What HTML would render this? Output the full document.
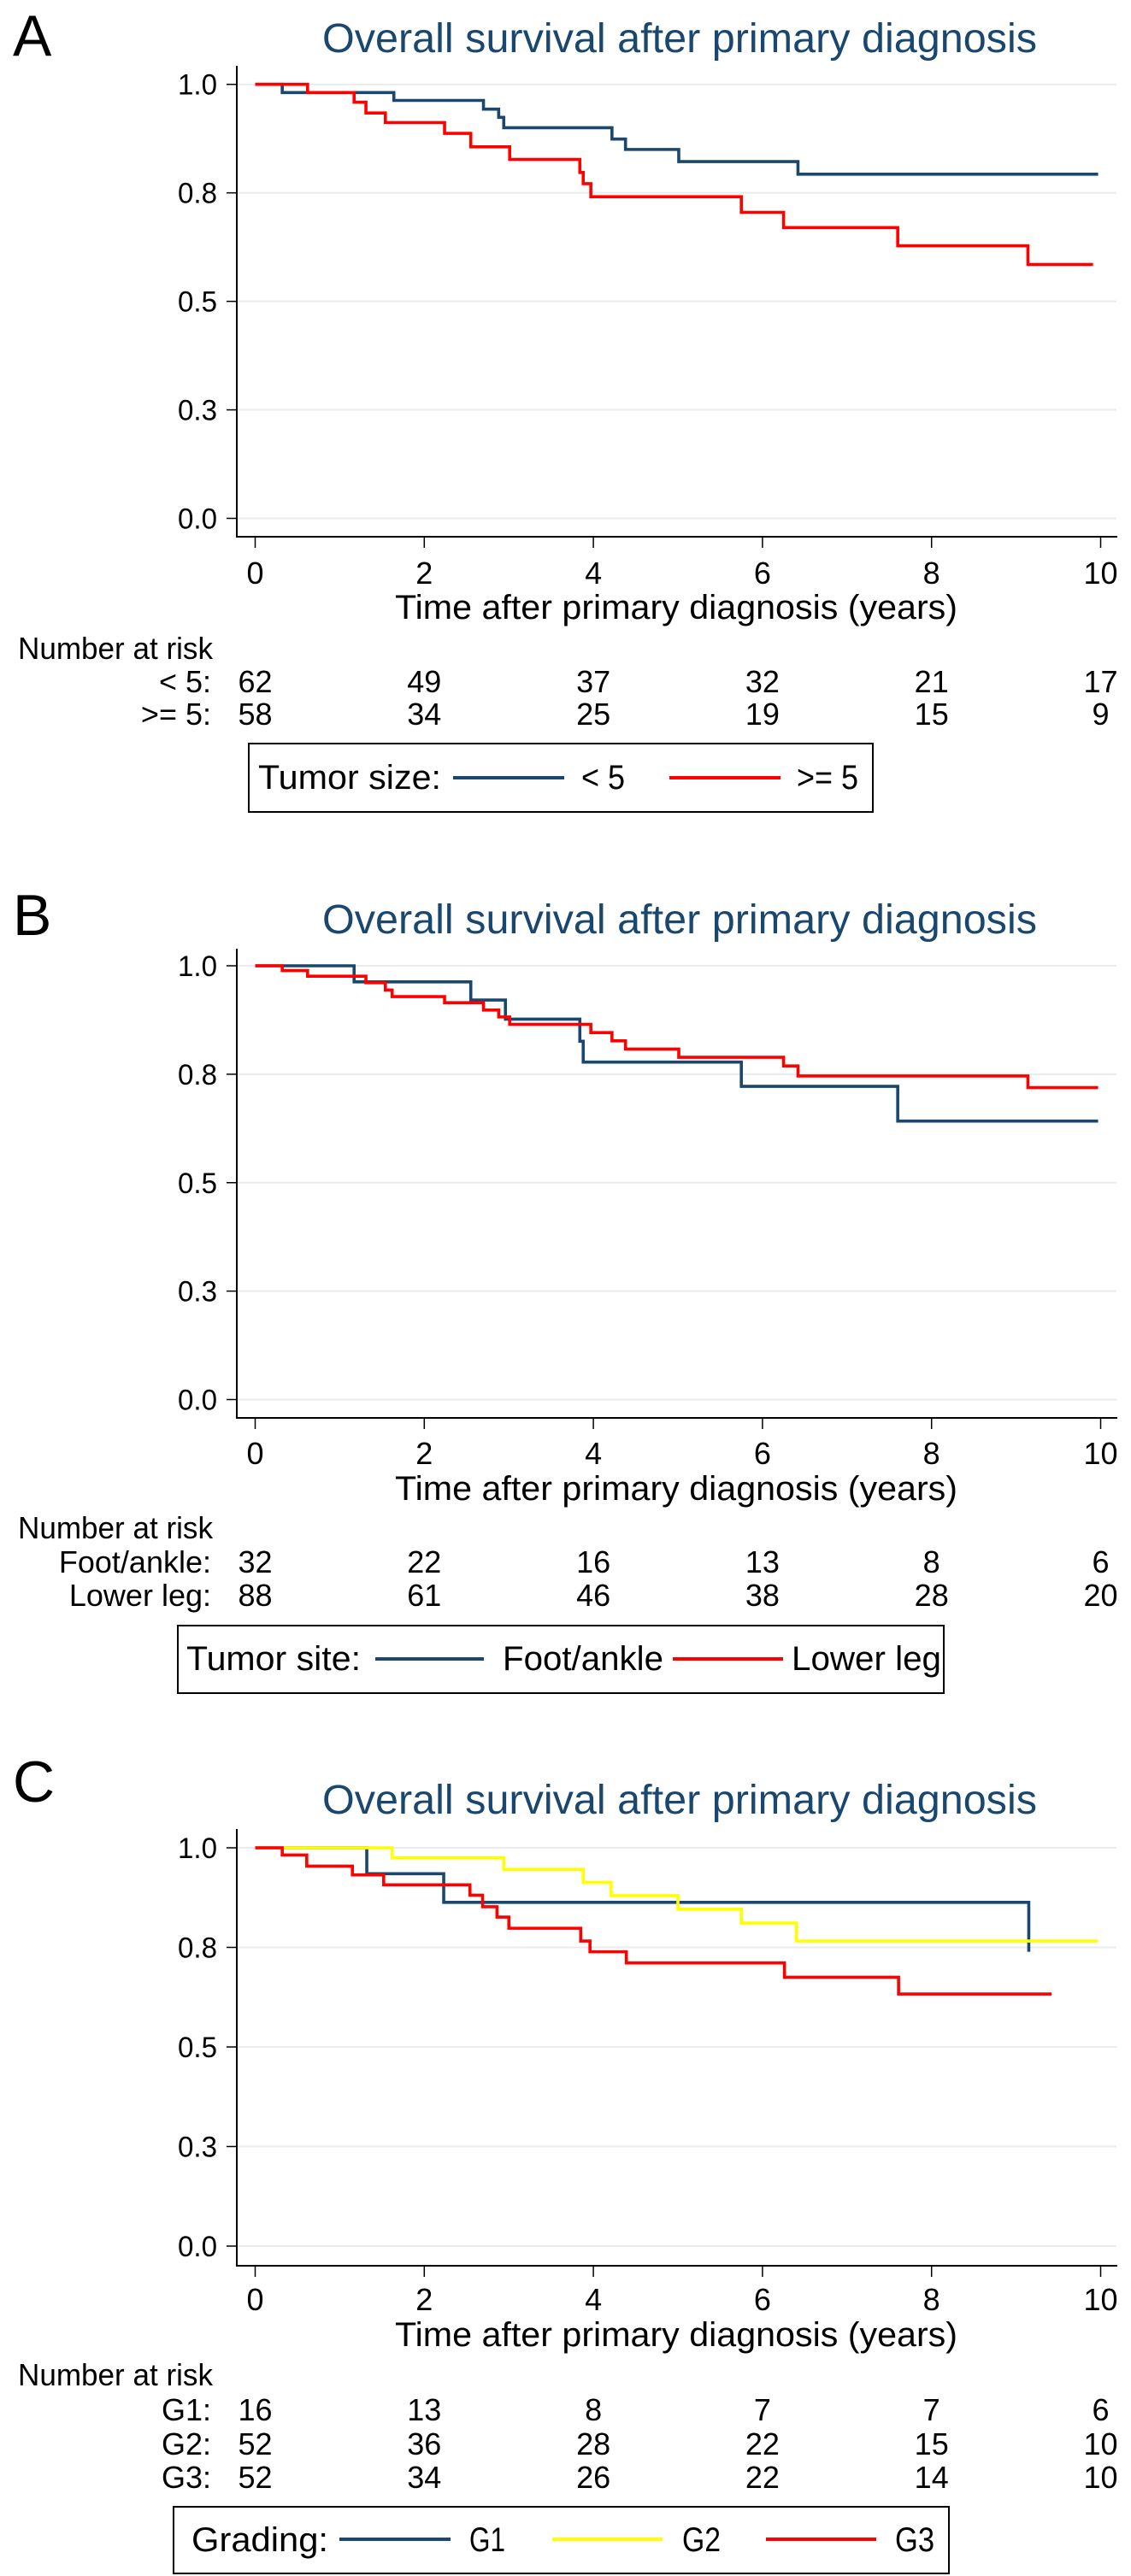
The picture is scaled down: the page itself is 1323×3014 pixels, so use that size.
<!DOCTYPE html>
<html><head><meta charset="utf-8"><style>
html,body{margin:0;padding:0;background:#fff;}
svg{display:block;font-family:"Liberation Sans",Arial,sans-serif;}
</style></head><body>
<svg id="fig" width="1323" height="3014" viewBox="0 0 1323 3014" xmlns="http://www.w3.org/2000/svg"></svg>
<script>
// ---- data ----
const xTicks = [0, 2, 4, 6, 8, 10];
const yTicks = [0, 0.25, 0.5, 0.75, 1.0];
const yTickLabels = ["0.0", "0.3", "0.5", "0.8", "1.0"];

// Panel A: tumor size
const aSmallT = [0, 0.32, 1.64, 2.70, 2.88, 2.94, 4.22, 4.38, 5.01, 6.42, 9.97];
const aSmallS = [1.0, 0.981, 0.963, 0.943, 0.924, 0.900, 0.874, 0.850, 0.822, 0.793, 0.793];
const aLargeT = [0, 0.62, 1.17, 1.31, 1.54, 2.24, 2.55, 3.01, 3.84, 3.88, 3.97, 5.75, 6.25, 7.60, 9.14, 9.91];
const aLargeS = [1.0, 0.981, 0.959, 0.934, 0.912, 0.887, 0.856, 0.827, 0.797, 0.771, 0.741, 0.705, 0.670, 0.628, 0.585, 0.585];
const aRiskLabels = ["< 5:", ">= 5:"];
const aRiskSmall = [62, 49, 37, 32, 21, 17];
const aRiskLarge = [58, 34, 25, 19, 15, 9];

// Panel B: tumor site
const bFootT = [0, 1.17, 2.55, 2.96, 3.84, 3.88, 5.75, 7.60, 9.97];
const bFootS = [1.0, 0.963, 0.921, 0.877, 0.826, 0.778, 0.722, 0.642, 0.642];
const bLegT = [0, 0.32, 0.62, 1.31, 1.54, 1.62, 2.24, 2.70, 2.88, 3.01, 3.97, 4.22, 4.38, 5.01, 6.25, 6.42, 9.14, 9.97];
const bLegS = [1.0, 0.989, 0.976, 0.961, 0.944, 0.929, 0.915, 0.898, 0.882, 0.865, 0.846, 0.827, 0.808, 0.789, 0.769, 0.746, 0.719, 0.719];
const bRiskLabels = ["Foot/ankle:", "Lower leg:"];
const bRiskFoot = [32, 22, 16, 13, 8, 6];
const bRiskLeg = [88, 61, 46, 38, 28, 20];

// Panel C: grading
const cG1T = [0, 1.32, 2.23, 9.15];
const cG1S = [1.0, 0.935, 0.863, 0.739];
const cG2T = [0, 1.62, 2.94, 3.88, 4.21, 5.00, 5.75, 6.40, 9.97];
const cG2S = [1.0, 0.975, 0.946, 0.913, 0.880, 0.846, 0.811, 0.766, 0.766];
const cG3T = [0, 0.32, 0.61, 1.15, 1.52, 2.54, 2.69, 2.86, 3.00, 3.85, 3.96, 4.39, 6.26, 7.61, 9.42];
const cG3S = [1.0, 0.982, 0.954, 0.932, 0.907, 0.881, 0.852, 0.826, 0.798, 0.766, 0.739, 0.711, 0.675, 0.633, 0.633];
const cRiskLabels = ["G1:", "G2:", "G3:"];
const cRiskG1 = [16, 13, 8, 7, 7, 6];
const cRiskG2 = [52, 36, 28, 22, 15, 10];
const cRiskG3 = [52, 34, 26, 22, 14, 10];

// ---- drawing ----
const NS = "http://www.w3.org/2000/svg";
const svg = document.getElementById("fig");
const BLUE = "#1a476f", RED = "#ff0000", YEL = "#ffff00";
function mk(tag, attrs, parent) {
  const e = document.createElementNS(NS, tag);
  for (const k in attrs) e.setAttribute(k, attrs[k]);
  (parent || svg).appendChild(e);
  return e;
}
function txt(str, attrs, parent) { const e = mk("text", attrs, parent); e.textContent = str; return e; }

function panel(p) {
  const g = mk("g", {});
  
  
  const xs = t => 298.5 + 98.9 * t;
  const ys = v => p.y0 - (p.y0 - p.y1) * v;

  const L = txt(p.letter, {x: 15, y: p.letterY, "font-size": 68}, g);
  
  
  const T = txt("Overall survival after primary diagnosis", {x: 377, y: p.titleY, "font-size": 48, fill: BLUE, textLength: 836, lengthAdjust: "spacingAndGlyphs"}, g);
  
  

  // gridlines + y ticks
  yTicks.forEach((v, i) => {
    const gl = mk("line", {x1: 278, x2: 1306, y1: ys(v), y2: ys(v), stroke: "#e8ecee", "stroke-width": 2}, g);
    
    
    const tk = mk("line", {x1: 265, x2: 277, y1: ys(v), y2: ys(v), stroke: "#000", "stroke-width": 1.5}, g);
    
    
    const tl = txt(yTickLabels[i], {x: 254, y: ys(v) + 12, "font-size": 34, "text-anchor": "end", textLength: 46, lengthAdjust: "spacingAndGlyphs"}, g);
    
    
  });
  const ya = mk("line", {x1: 277, x2: 277, y1: p.axisTop, y2: p.xAxisY, stroke: "#000", "stroke-width": 2}, g);
  
  
  const xa = mk("line", {x1: 276, x2: 1307, y1: p.xAxisY, y2: p.xAxisY, stroke: "#000", "stroke-width": 2}, g);
  
  
  xTicks.forEach(t => {
    const tk = mk("line", {x1: xs(t), x2: xs(t), y1: p.xAxisY, y2: p.xAxisY + 13, stroke: "#000", "stroke-width": 1.5}, g);
    
    
    const tl = txt(String(t), {x: xs(t), y: p.tickLabY, "font-size": 36, "text-anchor": "middle"}, g);
    
    
  });
  const at = txt("Time after primary diagnosis (years)", {x: 462, y: p.axisTitleY, "font-size": 40, textLength: 658, lengthAdjust: "spacingAndGlyphs"}, g);
  
  

  // curves
  p.series.forEach(s => {
    let d = "M" + xs(s.t[0]) + " " + ys(s.s[0]);
    for (let i = 1; i < s.t.length; i++) {
      d += " H" + xs(s.t[i]) + " V" + ys(s.s[i]);
    }
    const path = mk("path", {d: d, fill: "none", stroke: s.color, "stroke-width": 3.6, "stroke-linejoin": "miter"}, g);
    
    
  });

  // number at risk
  const nar = txt("Number at risk", {x: 21, y: p.narY, "font-size": 36, textLength: 228, lengthAdjust: "spacingAndGlyphs"}, g);
  
  
  p.risk.forEach((row, r) => {
    const rl = txt(p.riskLabels[r], {x: 247, y: p.riskY[r], "font-size": 36, "text-anchor": "end"}, g);
    
    
    row.forEach((n, i) => {
      const c = txt(String(n), {x: xs(xTicks[i]), y: p.riskY[r], "font-size": 36, "text-anchor": "middle"}, g);
      
      
    });
  });

  // legend
  const lb = mk("rect", {x: p.leg.x, y: p.leg.y, width: p.leg.w, height: p.leg.h, fill: "#fff", stroke: "#000", "stroke-width": 2}, g);
  
  
  const lt = txt(p.leg.title, {x: p.leg.titleX, y: p.leg.textY, "font-size": 40, textLength: p.leg.titleW, lengthAdjust: "spacingAndGlyphs"}, g);
  
  
  p.leg.items.forEach(it => {
    const ln = mk("line", {x1: it.x1, x2: it.x2, y1: p.leg.lineY, y2: p.leg.lineY, stroke: it.color, "stroke-width": 4}, g);
    
    
    const tx = txt(it.label, {x: it.tx, y: p.leg.textY, "font-size": 40, textLength: it.tw, lengthAdjust: "spacingAndGlyphs"}, g);
    
    
  });
}

panel({
  letter: "A", letterY: 65, titleY: 61, axisTop: 77, y1: 98.7, y0: 606.5, xAxisY: 628,
  tickLabY: 683, axisTitleY: 724, narY: 771, riskY: [810, 848],
  series: [{key: "lt5", t: aSmallT, s: aSmallS, color: BLUE}, {key: "ge5", t: aLargeT, s: aLargeS, color: RED}],
  riskLabels: aRiskLabels, risk: [aRiskSmall, aRiskLarge],
  leg: {x: 291, y: 870, w: 730, h: 80, title: "Tumor size:", titleX: 302, titleW: 214, lineY: 910, textY: 923,
    items: [{x1: 530, x2: 660, color: BLUE, label: "< 5", tx: 680, tw: 51},
            {x1: 783, x2: 913, color: RED, label: ">= 5", tx: 932, tw: 72}]}
});
panel({
  letter: "B", letterY: 1094, titleY: 1092, axisTop: 1110, y1: 1130, y0: 1637.5, xAxisY: 1659,
  tickLabY: 1713, axisTitleY: 1755, narY: 1800, riskY: [1840, 1879],
  series: [{key: "foot-ankle", t: bFootT, s: bFootS, color: BLUE}, {key: "lower-leg", t: bLegT, s: bLegS, color: RED}],
  riskLabels: bRiskLabels, risk: [bRiskFoot, bRiskLeg],
  leg: {x: 208, y: 1902, w: 896, h: 79, title: "Tumor site:", titleX: 218, titleW: 204, lineY: 1941, textY: 1954,
    items: [{x1: 439, x2: 566, color: BLUE, label: "Foot/ankle", tx: 588, tw: 188},
            {x1: 787, x2: 916, color: RED, label: "Lower leg", tx: 926, tw: 175}]}
});
panel({
  letter: "C", letterY: 2108, titleY: 2122, axisTop: 2140, y1: 2162, y0: 2628, xAxisY: 2651,
  tickLabY: 2703, axisTitleY: 2745, narY: 2791, riskY: [2832, 2872, 2911],
  series: [{key: "g1", t: cG1T, s: cG1S, color: BLUE}, {key: "g2", t: cG2T, s: cG2S, color: YEL}, {key: "g3", t: cG3T, s: cG3S, color: RED}],
  riskLabels: cRiskLabels, risk: [cRiskG1, cRiskG2, cRiskG3],
  leg: {x: 203, y: 2933, w: 907, h: 78, title: "Grading:", titleX: 224, titleW: 160, lineY: 2971, textY: 2985,
    items: [{x1: 397, x2: 527, color: BLUE, label: "G1", tx: 549, tw: 42},
            {x1: 646, x2: 775, color: YEL, label: "G2", tx: 798, tw: 45},
            {x1: 896, x2: 1025, color: RED, label: "G3", tx: 1047, tw: 46}]}
});
</script>
</body></html>
